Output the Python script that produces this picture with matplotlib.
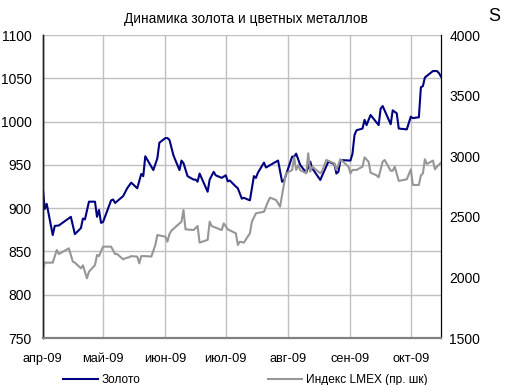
import matplotlib
matplotlib.use('Agg')
import matplotlib.pyplot as plt
from matplotlib.lines import Line2D
import numpy as np

plt.rcParams['font.family'] = ['Liberation Sans', 'DejaVu Sans']

# gold price, USD/oz
gold_dates = ['2009-04-01', '2009-04-02', '2009-04-03', '2009-04-06', '2009-04-07', '2009-04-09',
              '2009-04-15', '2009-04-17', '2009-04-20', '2009-04-21', '2009-04-22', '2009-04-24',
              '2009-04-27', '2009-04-28', '2009-04-29', '2009-04-30', '2009-05-01', '2009-05-05',
              '2009-05-06', '2009-05-07', '2009-05-11', '2009-05-13', '2009-05-15', '2009-05-18',
              '2009-05-20', '2009-05-21', '2009-05-22', '2009-05-26', '2009-05-28', '2009-05-29',
              '2009-06-01', '2009-06-02', '2009-06-03', '2009-06-05', '2009-06-08', '2009-06-09',
              '2009-06-10', '2009-06-12', '2009-06-15', '2009-06-16', '2009-06-17', '2009-06-18',
              '2009-06-22', '2009-06-23', '2009-06-25', '2009-06-26', '2009-06-29', '2009-07-01',
              '2009-07-02', '2009-07-03', '2009-07-06', '2009-07-07', '2009-07-09', '2009-07-10',
              '2009-07-13', '2009-07-15', '2009-07-16', '2009-07-17', '2009-07-20', '2009-07-21',
              '2009-07-27', '2009-07-29', '2009-07-30', '2009-08-03', '2009-08-04', '2009-08-05',
              '2009-08-07', '2009-08-10', '2009-08-12', '2009-08-13', '2009-08-17', '2009-08-18',
              '2009-08-21', '2009-08-24', '2009-08-25', '2009-08-26', '2009-08-27', '2009-09-01',
              '2009-09-02', '2009-09-03', '2009-09-04', '2009-09-07', '2009-09-08', '2009-09-09',
              '2009-09-10', '2009-09-11', '2009-09-15', '2009-09-16', '2009-09-17', '2009-09-21',
              '2009-09-22', '2009-09-24', '2009-09-25', '2009-09-29', '2009-10-01', '2009-10-02',
              '2009-10-05', '2009-10-06', '2009-10-07', '2009-10-08', '2009-10-12', '2009-10-14',
              '2009-10-15', '2009-10-16']
gold = [925, 899, 905, 869, 879.5, 880,
        890, 870, 877, 888, 887, 907.5,
        907.5, 890, 898, 883, 884, 909,
        910, 906, 914, 923, 929.5, 923,
        939.5, 937, 960, 944, 957.6, 975.6,
        981, 981, 979, 961, 944, 955,
        952, 937, 933, 933, 930.6, 940,
        919, 933, 942, 938, 935, 938,
        931, 932, 925, 923, 911, 912,
        909, 937, 935, 941, 952.6, 947,
        955, 930.6, 932, 959.5, 959.5, 963,
        950, 941, 953.7, 946, 932.6, 938,
        953.7, 951, 940, 942, 955.6, 955,
        963, 984.5, 990, 992, 1002, 996,
        1002, 1007.6, 996, 1015, 1018, 997,
        1013, 1009.6, 992, 991, 1005.7, 1004,
        1005, 1039.6, 1041, 1051, 1058.4, 1058.4,
        1056, 1052]

# LMEX index (right scale)
lmex_dates = ['2009-04-01', '2009-04-02', '2009-04-06', '2009-04-08', '2009-04-09', '2009-04-14',
              '2009-04-16', '2009-04-17', '2009-04-20', '2009-04-21', '2009-04-23', '2009-04-24',
              '2009-04-27', '2009-04-28', '2009-04-29', '2009-05-01', '2009-05-05', '2009-05-07',
              '2009-05-08', '2009-05-11', '2009-05-12', '2009-05-14', '2009-05-15', '2009-05-18',
              '2009-05-19', '2009-05-20', '2009-05-22', '2009-05-25', '2009-05-27', '2009-05-28',
              '2009-06-01', '2009-06-02', '2009-06-03', '2009-06-04', '2009-06-08', '2009-06-09',
              '2009-06-10', '2009-06-11', '2009-06-15', '2009-06-17', '2009-06-18', '2009-06-22',
              '2009-06-23', '2009-06-24', '2009-06-29', '2009-06-30', '2009-07-02', '2009-07-06',
              '2009-07-07', '2009-07-08', '2009-07-10', '2009-07-13', '2009-07-14', '2009-07-16',
              '2009-07-20', '2009-07-22', '2009-07-23', '2009-07-26', '2009-07-28', '2009-07-30',
              '2009-07-31', '2009-08-03', '2009-08-04', '2009-08-05', '2009-08-06', '2009-08-07',
              '2009-08-10', '2009-08-11', '2009-08-12', '2009-08-13', '2009-08-17', '2009-08-18',
              '2009-08-20', '2009-08-24', '2009-08-25', '2009-08-27', '2009-08-31', '2009-09-01',
              '2009-09-02', '2009-09-04', '2009-09-07', '2009-09-08', '2009-09-10', '2009-09-11',
              '2009-09-14', '2009-09-15', '2009-09-17', '2009-09-18', '2009-09-21', '2009-09-22',
              '2009-09-23', '2009-09-25', '2009-09-29', '2009-10-01', '2009-10-02', '2009-10-05',
              '2009-10-06', '2009-10-07', '2009-10-08', '2009-10-09', '2009-10-12', '2009-10-13',
              '2009-10-14', '2009-10-16']
lmex = [2047, 2122, 2122, 2226, 2193, 2240,
        2130, 2122, 2075, 2100, 1993, 2047,
        2102, 2185, 2176, 2254, 2254, 2193,
        2193, 2149, 2158, 2167, 2176, 2172,
        2116, 2176, 2176, 2172, 2267, 2350,
        2336, 2295, 2358, 2386, 2446, 2460,
        2556, 2397, 2391, 2424, 2287, 2310,
        2460, 2424, 2391, 2446, 2397, 2364,
        2268, 2295, 2287, 2364, 2460, 2529,
        2542, 2625, 2658, 2639, 2584, 2776,
        2859, 2886, 2991, 2887, 2925, 2886,
        2859, 3024, 2873, 2914, 2859, 2880,
        2969, 2941, 2887, 2975, 2914, 2859,
        2887, 2887, 2914, 2991, 2955, 2864,
        2842, 2826, 2955, 2969, 2880, 2880,
        2914, 2796, 2810, 2892, 2763, 2763,
        2842, 2859, 2975, 2936, 2964, 2892,
        2914, 2947]

month_starts = ['2009-04-01', '2009-05-01', '2009-06-01', '2009-07-01',
                '2009-08-01', '2009-09-01', '2009-10-01']
month_labels = ['апр-09', 'май-09', 'июн-09', 'июл-09', 'авг-09', 'сен-09', 'окт-09']

gold_x = np.array(gold_dates, dtype='datetime64[D]')
lmex_x = np.array(lmex_dates, dtype='datetime64[D]')
ticks_x = np.array(month_starts, dtype='datetime64[D]')

fig = plt.figure(figsize=(5.1, 3.85), dpi=100)
ax = fig.add_axes([0.0837, 0.122, 0.781, 0.787])
ax2 = ax.twinx()

ax.plot(gold_x, gold, color='#000080', lw=1.5)
ax2.plot(lmex_x, lmex, color='#969696', lw=1.5)

ax.set_xlim(np.datetime64('2009-04-01'), np.datetime64('2009-10-16'))
ax.set_ylim(750, 1100)
ax.set_yticks(np.arange(750, 1101, 50))
ax2.set_ylim(1500, 4000)
ax2.set_yticks(np.arange(1500, 4001, 500))
ax.set_xticks(ticks_x)
ax.set_xticklabels(month_labels)

ax.grid(True, color='#c0c0c0', lw=1)
ax.set_axisbelow(True)
ax.tick_params(axis='both', length=0, colors='black')
ax.tick_params(axis='y', pad=8, labelsize=10)
ax.tick_params(axis='x', pad=11, labelsize=9.2)
ax2.tick_params(axis='y', length=0, labelsize=10, pad=6)

for a in (ax, ax2):
    a.spines['top'].set_visible(False)
    a.spines['left'].set_color('#222222')
    a.spines['bottom'].set_color('#808080')
    a.spines['right'].set_color('black')
    a.spines['left'].set_linewidth(1)
    a.spines['bottom'].set_linewidth(1.5)

fig.text(0.483, 0.951, 'Динамика золота и цветных металлов', ha='center', va='center', fontsize=9.8)
fig.text(0.958, 0.957, 'S', ha='left', va='center', fontsize=13)

handles = [Line2D([], [], color='#000080', lw=1.5),
           Line2D([], [], color='#969696', lw=1.5)]
fig.legend(handles, ['Золото', 'Индекс LMEX (пр. шк)'], ncol=2, frameon=False,
           loc='center left', bbox_to_anchor=(0.124, 0.012), fontsize=8.6,
           handlelength=2.9, handletextpad=0.35, columnspacing=10.6,
           borderpad=0, borderaxespad=0)

fig.savefig('out.png', dpi=100)
